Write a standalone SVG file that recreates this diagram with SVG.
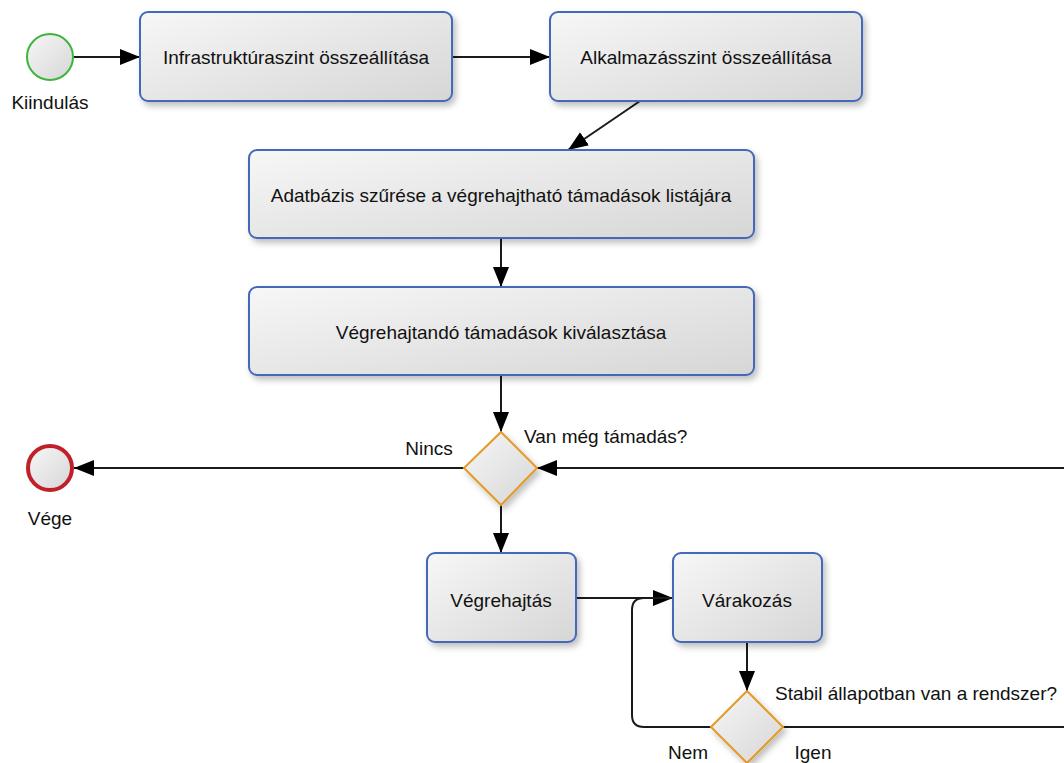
<svg xmlns="http://www.w3.org/2000/svg" width="1064" height="763" viewBox="0 0 1064 763">
<defs>
<linearGradient id="g" x1="0" y1="0" x2="1" y2="1">
<stop offset="0" stop-color="#f7f7f7"/>
<stop offset="1" stop-color="#d6d6d6"/>
</linearGradient>
<filter id="sh" x="-10%" y="-10%" width="130%" height="140%">
<feDropShadow dx="3" dy="4" stdDeviation="3" flood-color="#000" flood-opacity="0.25"/>
</filter>
<marker id="ah" viewBox="0 0 20 16" refX="20" refY="8" markerWidth="20" markerHeight="16" markerUnits="userSpaceOnUse" orient="auto">
<path d="M0,0 L20,8 L0,16 Z" fill="#000"/>
</marker>
</defs>
<style>
.box{fill:url(#g);stroke:#4468b8;stroke-width:2;filter:url(#sh)}
.dia{fill:url(#g);stroke:#e39a28;stroke-width:2;filter:url(#sh)}
.t{font-family:"Liberation Sans",Arial,sans-serif;font-size:19px;fill:#111}
.c{text-anchor:middle}
.ln{fill:none;stroke:#1a1a1a;stroke-width:2}
</style>
<rect width="1064" height="763" fill="#fff"/>
<g id="connectors">
<line class="ln" x1="74" y1="57" x2="140" y2="57" marker-end="url(#ah)"/>
<line class="ln" x1="452" y1="57" x2="550" y2="57" marker-end="url(#ah)"/>
<line class="ln" x1="640" y1="101" x2="568" y2="150" marker-end="url(#ah)"/>
<line class="ln" x1="501" y1="238" x2="501" y2="287" marker-end="url(#ah)"/>
<line class="ln" x1="501" y1="375" x2="501" y2="432" marker-end="url(#ah)"/>
<line class="ln" x1="464" y1="468" x2="74" y2="468" marker-end="url(#ah)"/>
<line class="ln" x1="1070" y1="468" x2="537" y2="468" marker-end="url(#ah)"/>
<line class="ln" x1="501" y1="505" x2="501" y2="553" marker-end="url(#ah)"/>
<line class="ln" x1="576" y1="598" x2="673" y2="598" marker-end="url(#ah)"/>
<line class="ln" x1="747" y1="642" x2="747" y2="691" marker-end="url(#ah)"/>
<path class="ln" d="M711,727 L644,727 Q632,727 632,715 L632,610 Q632,598 644,598 L673,598"/>
<line class="ln" x1="783" y1="727" x2="1070" y2="727"/>
</g>
<g id="start">
<circle cx="50" cy="57" r="23" fill="url(#g)" stroke="#3db53d" stroke-width="2"/>
<text class="t c" x="50" y="109">Kiindulás</text>
</g>
<g id="infra">
<rect class="box" x="140" y="12" width="312" height="89" rx="8"/>
<text class="t c" x="296" y="64">Infrastruktúraszint összeállítása</text>
</g>
<g id="alk">
<rect class="box" x="550" y="12" width="312" height="89" rx="8"/>
<text class="t c" x="706" y="64">Alkalmazásszint összeállítása</text>
</g>
<g id="adatbazis">
<rect class="box" x="249" y="150" width="505" height="88" rx="8"/>
<text class="t c" x="501" y="202">Adatbázis szűrése a végrehajtható támadások listájára</text>
</g>
<g id="kivalasztas">
<rect class="box" x="249" y="287" width="505" height="88" rx="8"/>
<text class="t c" x="501" y="339">Végrehajtandó támadások kiválasztása</text>
</g>
<g id="dontes1">
<path class="dia" d="M501,432 L537,468 L501,505 L464,468 Z"/>
<text class="t" x="524" y="443">Van még támadás?</text>
<text class="t c" x="429" y="455">Nincs</text>
</g>
<g id="vege">
<circle cx="50" cy="468" r="22" fill="url(#g)" stroke="#c0202a" stroke-width="4"/>
<text class="t c" x="50" y="525">Vége</text>
</g>
<g id="vegrehajtas">
<rect class="box" x="427" y="553" width="149" height="89" rx="8"/>
<text class="t c" x="501" y="607">Végrehajtás</text>
</g>
<g id="varakozas">
<rect class="box" x="673" y="553" width="149" height="89" rx="8"/>
<text class="t c" x="747" y="607">Várakozás</text>
</g>
<g id="dontes2">
<path class="dia" d="M747,691 L783,727 L747,763 L711,727 Z"/>
<text class="t" x="775" y="700">Stabil állapotban van a rendszer?</text>
<text class="t c" x="688" y="759">Nem</text>
<text class="t c" x="813" y="759">Igen</text>
</g>
</svg>
